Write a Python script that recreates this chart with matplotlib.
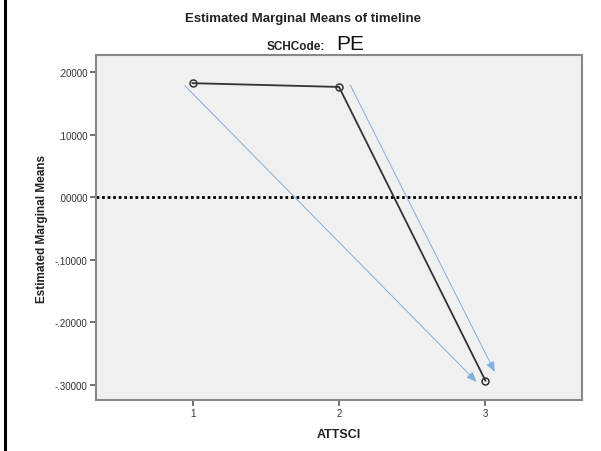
import matplotlib
matplotlib.use('Agg')
import matplotlib.pyplot as plt
from matplotlib.lines import Line2D

# Values
attsci = [1, 2, 3]
means = [0.182, 0.176, -0.293]
y_ticks = [0.2, 0.1, 0.0, -0.1, -0.2, -0.3]
y_labels = ['.20000', '.10000', '.00000', '-.10000', '-.20000', '-.30000']

# hand-drawn blue arrows (start -> end, in data units)
arrows = [((0.947, 0.178), (2.94, -0.295)),
          ((2.077, 0.179), (3.064, -0.279))]

plt.rcParams['font.family'] = ['Liberation Sans', 'DejaVu Sans']

fig = plt.figure(figsize=(6.01, 4.52), dpi=100)
ax = fig.add_axes([0.1597, 0.1128, 0.8087, 0.7633])
ax.set_facecolor('#f0f0f0')

ax.axhline(0, color='black', linestyle=(0, (1, 1)), linewidth=2, zorder=1)
ax.plot(attsci, means, color='#333333', linewidth=1.3, marker='o',
        markersize=5, markerfacecolor='none', markeredgecolor='#333333',
        markeredgewidth=1.1, zorder=3)

for (x0, y0), (x1, y1) in arrows:
    ax.annotate('', xy=(x1, y1), xytext=(x0, y0),
                arrowprops=dict(arrowstyle='-|>,head_length=0.6,head_width=0.25',
                                color='#7fb0e0', linewidth=0.7,
                                shrinkA=0, shrinkB=0),
                zorder=2)

ax.set_xlim(0.34, 3.66)
ax.set_ylim(-0.324, 0.227)
ax.set_xticks(attsci)
ax.set_xticklabels(['1', '2', '3'])
ax.set_yticks(y_ticks)
ax.set_yticklabels(y_labels)
ax.tick_params(direction='out', length=4, width=1.2, color='#555555',
               labelsize=7, labelcolor='#333333', pad=2)

for s in ax.spines.values():
    s.set_color('#888888')
    s.set_linewidth(1.5)

ax.set_xlabel('ATTSCI', fontsize=9, fontweight='bold', color='#222222', labelpad=7)
ax.set_ylabel('Estimated Marginal Means', fontsize=8.5, fontweight='bold',
              color='#222222', labelpad=5)

fig.text(0.504, 0.958, 'Estimated Marginal Means of timeline', ha='center',
         va='center', fontsize=9.5, fontweight='bold', color='#222222')
fig.text(0.541, 0.889, 'SCHCode:', ha='right', va='baseline', fontsize=8.5,
         fontweight='bold', color='#222222')
fig.text(0.559, 0.889, 'PE', ha='left', va='baseline', fontsize=15,
         color='#111111')

# black border on the left side of the picture
fig.add_artist(Line2D([0.009, 0.009], [0, 1], color='black', linewidth=2.2,
                      transform=fig.transFigure))

fig.savefig('out.png', dpi=100)
